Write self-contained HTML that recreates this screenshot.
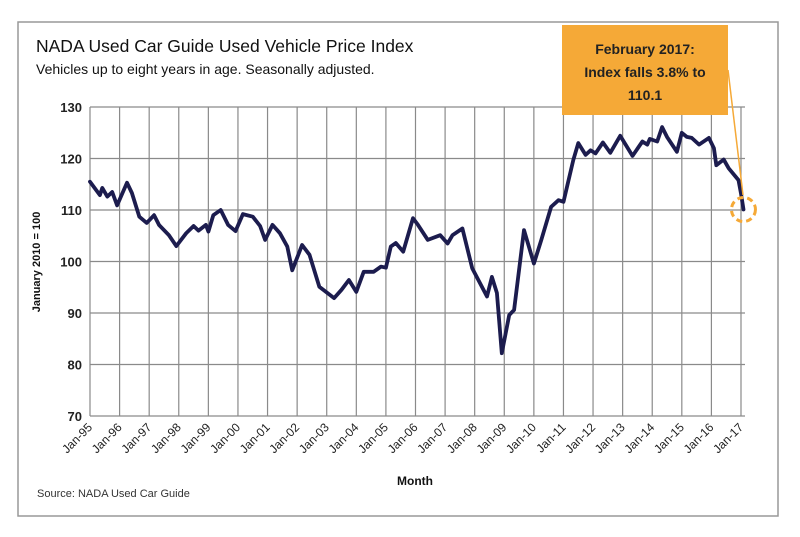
<!DOCTYPE html>
<html><head><meta charset="utf-8"><style>
body{margin:0;background:#fff;width:800px;height:532px;overflow:hidden;font-family:"Liberation Sans",sans-serif}
</style></head><body>
<svg width="800" height="532" viewBox="0 0 800 532">
<rect x="18" y="22" width="760" height="494" fill="#fff" stroke="#999" stroke-width="1.5"/>
<text x="36" y="52" font-size="17.5" fill="#111">NADA Used Car Guide Used Vehicle Price Index</text>
<text x="36" y="74" font-size="14" fill="#111">Vehicles up to eight years in age. Seasonally adjusted.</text>
<g id="grid"></g>
<g id="yticks"></g>
<g id="xticks"></g>
<text transform="translate(40,262) rotate(-90)" text-anchor="middle" font-size="11" font-weight="bold" fill="#111">January 2010 = 100</text>
<text x="415" y="485" text-anchor="middle" font-size="12" font-weight="bold" fill="#111">Month</text>
<text x="37" y="497" font-size="11" fill="#333">Source:  NADA Used Car Guide</text>
<path id="line" fill="none" stroke="#1c1c4e" stroke-width="3.8" stroke-linejoin="round" stroke-linecap="round"/>
<rect x="562" y="25" width="166" height="90" fill="#f5a937"/>
<text x="645" y="54" text-anchor="middle" font-size="14" font-weight="bold" fill="#222">February 2017:</text>
<text x="645" y="77" text-anchor="middle" font-size="14" font-weight="bold" fill="#222">Index falls 3.8% to</text>
<text x="645" y="100" text-anchor="middle" font-size="14" font-weight="bold" fill="#222">110.1</text>
<line x1="728" y1="70" x2="743" y2="195" stroke="#f5a937" stroke-width="1.5"/>
<circle id="mark" r="12" fill="none" stroke="#f5a937" stroke-width="3" stroke-dasharray="6 4"/>
</svg>
<script>
const yTicks=[70,80,90,100,110,120,130];
const xLabels=["Jan-95","Jan-96","Jan-97","Jan-98","Jan-99","Jan-00","Jan-01","Jan-02","Jan-03","Jan-04","Jan-05","Jan-06","Jan-07","Jan-08","Jan-09","Jan-10","Jan-11","Jan-12","Jan-13","Jan-14","Jan-15","Jan-16","Jan-17"];
const months=[0,4,5,7,9,11,15,17,20,23,26,28,32,35,39,42,44,47,48,50,53,56,59,62,66,69,71,74,77,80,82,86,89,93,99,102,105,108,111,115,118,120,122,124,127,131,133,137,142,145,147,151,155,161,163,165,167,170,172,176,180,183,187,190,192,196,198,201,203,205,208,211,215,220,224,226,227,230,232,234,238,240,242,244,247,251,253,254,257,259,263,264,265];
const values=[115.5,112.9,114.3,112.6,113.5,110.9,115.3,113.3,108.7,107.5,109.0,107.1,105.1,103.0,105.5,106.9,106.0,107.1,105.8,109.0,110.0,107.1,105.9,109.2,108.7,106.9,104.2,107.1,105.5,102.9,98.3,103.2,101.3,95.1,92.9,94.5,96.4,94.1,98.0,98.0,99.0,98.8,102.9,103.6,101.9,108.4,107.1,104.2,105.1,103.5,105.1,106.4,98.7,93.2,97.0,93.9,82.2,89.6,90.6,106.1,99.6,104.2,110.6,111.9,111.6,119.7,123.0,120.7,121.6,121.0,123.1,121.1,124.4,120.5,123.3,122.7,123.8,123.3,126.1,124.2,121.3,125.0,124.2,124.0,122.7,124.0,122.0,118.7,119.8,118.1,115.8,113.2,110.1];
const X0=90,X1=741,Y0=416,Y1=107;
const xs=m=>X0+(X1-X0)*m/264;
const ys=v=>Y0-(Y0-Y1)*(v-70)/60;
const NS="http://www.w3.org/2000/svg";
const grid=document.getElementById('grid'),yt=document.getElementById('yticks'),xt=document.getElementById('xticks');
function mk(tag,attrs,parent){const e=document.createElementNS(NS,tag);for(const k in attrs)e.setAttribute(k,attrs[k]);parent.appendChild(e);return e;}
yTicks.forEach(v=>{
 const l=mk('line',{x1:X0,x2:X1+4,y1:ys(v),y2:ys(v),stroke:'#8a8a8a','stroke-width':1.2},grid);
 
 
 const t=mk('text',{x:X0-8,y:ys(v)+5,'text-anchor':'end','font-size':13,'font-weight':'bold',fill:'#222'},yt);
 
 
 t.textContent=v;
});
xLabels.forEach((s,i)=>{
 const x=xs(i*12);
 const l=mk('line',{x1:x,x2:x,y1:Y1,y2:Y0,stroke:'#8a8a8a','stroke-width':1.2},grid);
 
 
 const t=mk('text',{transform:`translate(${x+3},${Y0+12}) rotate(-45)`,'text-anchor':'end','font-size':12,fill:'#222'},xt);
 
 
 t.textContent=s;
});
document.getElementById('line').setAttribute('d',months.map((m,i)=>(i?'L':'M')+xs(m).toFixed(1)+','+ys(values[i]).toFixed(1)).join(''));
const mark=document.getElementById('mark');
mark.setAttribute('cx',xs(months[months.length-1]));
mark.setAttribute('cy',ys(values[values.length-1]));
</script>
</body></html>
